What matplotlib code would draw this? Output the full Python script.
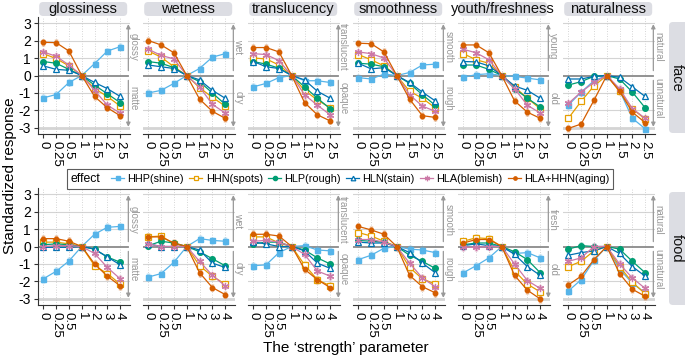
import matplotlib as mpl
import numpy as np

mpl.use("Agg")
import matplotlib.pyplot as plt
from matplotlib.lines import Line2D
from matplotlib.offsetbox import HPacker
from matplotlib.patches import FancyBboxPatch
from matplotlib.transforms import IdentityTransform

plt.rcParams["font.family"] = ["Liberation Sans", "DejaVu Sans"]

W, H = 685, 358

attributes = ["glossiness", "wetness", "translucency", "smoothness", "youth/freshness", "naturalness"]
effects = ["HHP(shine)", "HHN(spots)", "HLP(rough)", "HLN(stain)", "HLA(blemish)", "HLA+HHN(aging)"]
xticks_face = ["0", "0.25", "0.5", "1", "1.5", "2", "2.5"]
xticks_food = ["0", "0.25", "0.5", "1", "2", "3", "4"]
upper_face = ["glossy", "wet", "translucent", "smooth", "young", "natural"]
lower_face = ["matte", "dry", "opaque", "rough", "old", "unnatural"]
upper_food = ["glossy", "wet", "translucent", "smooth", "fresh", "natural"]
lower_food = ["matte", "dry", "opaque", "rough", "old", "unnatural"]

# rows: HHP, HHN, HLP, HLN, HLA, HLA+HHN
face_glossiness = [
    [-1.28, -1.09, -0.4, 0, 0.68, 1.4, 1.65],
    [1.25, 0.97, 0.55, 0, -0.75, -1.2, -1.75],
    [0.8, 0.7, 0.35, 0, -0.55, -1.05, -1.55],
    [0.55, 0.35, 0.3, 0, -0.4, -0.75, -1.2],
    [1.35, 1.1, 0.6, 0, -0.85, -1.7, -2.15],
    [1.9, 1.88, 1.4, 0, -1.2, -1.85, -2.3],
]
face_wetness = [
    [-1.0, -0.85, -0.45, 0, 0.4, 1.05, 1.25],
    [1.4, 1.05, 0.5, 0, -0.7, -1.25, -1.75],
    [0.8, 0.7, 0.45, 0, -0.35, -1.0, -1.65],
    [0.6, 0.5, 0.4, 0, -0.25, -0.85, -1.3],
    [1.5, 1.15, 0.95, 0, -0.65, -1.65, -2.15],
    [2.0, 1.75, 1.3, 0, -1.35, -2.05, -2.45],
]
face_translucency = [
    [-0.65, -0.45, -0.12, 0, -0.3, -0.3, -0.4],
    [1.0, 0.95, 0.6, 0, -0.85, -1.4, -1.85],
    [0.8, 0.65, 0.42, 0, -0.65, -1.3, -1.9],
    [0.8, 0.5, 0.4, 0, -0.25, -0.9, -1.3],
    [1.25, 1.2, 0.85, 0, -1.1, -1.7, -2.25],
    [1.6, 1.6, 1.35, 0, -1.55, -2.25, -2.6],
]
face_smoothness = [
    [-0.12, -0.2, 0.08, 0, 0.17, 0.6, 0.65],
    [1.2, 0.9, 0.55, 0, -0.9, -1.3, -1.85],
    [0.7, 0.65, 0.5, 0, -0.45, -1.1, -1.7],
    [0.7, 0.38, 0.45, 0, -0.4, -0.95, -1.45],
    [1.35, 1.25, 1.0, 0, -1.1, -1.75, -2.05],
    [1.85, 1.82, 1.35, 0, -1.35, -2.3, -2.4],
]
face_youth = [
    [-0.1, 0.05, 0.1, 0, -0.05, -0.15, -0.25],
    [1.25, 0.9, 0.7, 0, -0.65, -1.3, -1.9],
    [0.6, 0.6, 0.35, 0, -0.75, -1.3, -1.8],
    [0.8, 0.78, 0.55, 0, -0.6, -0.85, -1.3],
    [1.5, 1.3, 0.9, 0, -0.75, -1.7, -2.15],
    [1.75, 1.75, 1.3, 0, -1.45, -2.1, -2.45],
]
face_naturalness = [
    [-1.7, -0.95, -0.3, 0, -0.85, -2.45, -3.05],
    [-2.45, -1.48, -0.6, 0, -0.9, -1.9, -2.5],
    [-0.55, -0.35, -0.05, 0, -0.2, -0.95, -1.85],
    [-0.2, -0.2, -0.05, 0, -0.1, -0.65, -1.2],
    [-1.6, -0.95, -0.4, 0, -0.75, -1.9, -2.45],
    [-3.03, -2.78, -1.42, 0, -0.9, -2.1, -2.7],
]
food_glossiness = [
    [-1.85, -1.42, -0.83, 0, 0.7, 1.1, 1.15],
    [0.25, 0.25, 0.15, 0, -1.1, -1.55, -2.15],
    [0.1, 0.15, 0.1, 0, -0.15, -0.6, -0.9],
    [-0.05, -0.05, -0.05, 0, -0.15, -0.6, -1.05],
    [0.0, 0.05, 0.05, 0, -0.4, -1.2, -1.85],
    [0.45, 0.45, 0.3, 0, -1.0, -1.7, -2.25],
]
food_wetness = [
    [-1.75, -1.55, -0.9, 0, 0.45, 0.35, 0.3],
    [0.55, 0.6, 0.15, 0, -1.1, -1.7, -2.15],
    [0.05, 0.3, 0.2, 0, -0.3, -0.7, -1.1],
    [0.15, 0.0, 0.0, 0, -0.2, -0.95, -1.2],
    [0.15, 0.0, 0.0, 0, -0.85, -1.65, -2.25],
    [0.55, 0.55, 0.2, 0, -1.5, -2.35, -2.75],
]
food_translucency = [
    [-1.1, -1.05, -0.35, 0, 0.05, -0.2, -0.25],
    [0.55, 0.55, 0.2, 0, -1.05, -1.9, -2.25],
    [0.15, 0.25, 0.25, 0, -0.2, -0.65, -1.0],
    [0.25, 0.15, 0.0, 0, -0.25, -0.95, -1.25],
    [0.3, 0.35, 0.25, 0, -0.45, -1.4, -1.7],
    [0.7, 0.7, 0.6, 0, -1.3, -1.9, -2.35],
]
food_smoothness = [
    [-0.75, -0.5, -0.1, 0, -0.15, -0.2, -0.35],
    [0.8, 0.6, 0.3, 0, -1.2, -1.85, -2.15],
    [0.35, 0.3, 0.25, 0, -0.5, -0.85, -1.25],
    [0.25, 0.2, 0.2, 0, -0.35, -0.95, -1.5],
    [0.4, 0.4, 0.25, 0, -0.95, -1.8, -2.3],
    [1.15, 0.95, 0.7, 0, -1.65, -2.3, -2.65],
]
food_youth = [
    [-1.5, -1.1, -0.65, 0, -0.4, -0.35, -0.65],
    [0.3, 0.5, 0.45, 0, -1.4, -2.15, -2.6],
    [0.1, 0.2, 0.2, 0, -0.3, -0.75, -1.5],
    [0.05, 0.15, 0.05, 0, -0.45, -1.15, -1.65],
    [-0.05, -0.05, 0.0, 0, -1.0, -1.95, -2.4],
    [0.2, 0.4, 0.4, 0, -1.65, -2.5, -3.0],
]
food_naturalness = [
    [-2.55, -1.9, -0.8, 0, -1.3, -2.1, -2.65],
    [-1.15, -0.85, -0.25, 0, -1.15, -2.05, -2.7],
    [-0.15, 0.05, 0.0, 0, -0.15, -0.85, -1.5],
    [-0.5, -0.35, -0.25, 0, -0.4, -1.15, -1.7],
    [-0.85, -0.65, 0.0, 0, -1.0, -1.8, -2.4],
    [-2.2, -1.7, -0.75, 0, -1.55, -2.45, -2.85],
]
face_err = [0.2, 0.18, 0.16, 0.14, 0.18, 0.2]
food_err = [0.22, 0.2, 0.18, 0.16, 0.2, 0.22]

face_rows = [face_glossiness, face_wetness, face_translucency, face_smoothness, face_youth, face_naturalness]
food_rows = [food_glossiness, food_wetness, food_translucency, food_smoothness, food_youth, food_naturalness]

colors = ["#56B4E9", "#E69F00", "#009E73", "#0072B2", "#CC79A7", "#D55E00"]
styles = [
    dict(marker="s", ms=3.6, mfc="#56B4E9"),
    dict(marker="s", ms=4.0, mfc="white", mew=0.9),
    dict(marker="o", ms=4.0, mfc="#009E73"),
    dict(marker="^", ms=4.4, mfc="white", mew=0.9),
    dict(marker=(6, 2, 0), ms=5.2, mew=0.9),
    dict(marker="o", ms=3.2, mfc="#D55E00"),
]

fig = plt.figure(figsize=(W / 100, H / 100), dpi=100)


def px_axes(left, top, width, height):
    return fig.add_axes([left / W, 1 - (top + height) / H, width / W, height / H])


def strip(x0, y0, x1, y1, text, tx=None, rot=0):
    patch = FancyBboxPatch((x0, H - y1), x1 - x0, y1 - y0,
                           boxstyle="round,pad=0,rounding_size=4",
                           transform=IdentityTransform(), fc="#DCDDE3", ec="none")
    fig.add_artist(patch)
    if tx is None:
        tx = (x0 + x1) / 2
    fig.text(tx / W, 1 - (y0 + y1) / 2 / H, text, ha="center", va="center",
             rotation=rot, fontsize=10.5, color="#111111")


row_tops = [17, 188]
panel_h = 117
col_left0, col_step, panel_w = 37.7, 105, 92.3
x = np.arange(7)

for r, (rows, ticks, ups, lows, errs, uy) in enumerate([
        (face_rows, xticks_face, upper_face, lower_face, face_err, 1.65),
        (food_rows, xticks_food, upper_food, lower_food, food_err, 1.5)]):
    for c in range(6):
        ax = px_axes(col_left0 + c * col_step, row_tops[r], panel_w, panel_h)
        ax.set_xlim(-0.44, 6.77)
        ax.set_ylim(-3.35, 3.35)
        for v in range(-3, 4):
            if v != 0:
                ax.axhline(v, color="#D4D4D4", lw=2.0 if v == -3 else 0.8, zorder=0)
        for xv in x:
            ax.axvline(xv, color="#C8C8C8", lw=0.6, ls=(0, (1, 2)), zorder=0)
        ax.axhline(0, xmax=(6.64 + 0.44) / 7.21, color="#8A8A8A", lw=1.3, zorder=1)

        for k, ys in enumerate(rows[c]):
            ys = np.asarray(ys)
            mask = x != 3
            ax.vlines(x[mask], ys[mask] - errs[k], ys[mask] + errs[k], color=colors[k],
                      alpha=0.4, lw=2.5, zorder=2)
            ax.plot(x, ys, color=colors[k], lw=0.9, mec=colors[k], zorder=3, **styles[k])

        ax.annotate("", xy=(6.64, 3.1), xytext=(6.64, 0.12), annotation_clip=False,
                    arrowprops=dict(arrowstyle="-|>", color="#999999", lw=0.9, mutation_scale=6))
        ax.annotate("", xy=(6.64, -3.1), xytext=(6.64, -0.12), annotation_clip=False,
                    arrowprops=dict(arrowstyle="-|>", color="#999999", lw=0.9, mutation_scale=6))
        ax.text(7.03, uy, ups[c], rotation=-90, ha="center", va="center", fontsize=7,
                color="#999999", clip_on=False)
        ax.text(7.03, -1.3, lows[c], rotation=-90, ha="center", va="center", fontsize=7,
                color="#999999", clip_on=False)

        ax.set_xticks(x)
        ax.set_xticklabels(ticks, rotation=-90, ha="center", va="top", fontsize=9.5)
        for s in ["top", "right"]:
            ax.spines[s].set_visible(False)
        ax.spines["bottom"].set_color("#333333")
        ax.spines["bottom"].set_linewidth(0.8)
        ax.tick_params(axis="x", length=3, width=0.8, color="#333333", pad=2)
        if c == 0:
            ax.set_yticks(range(-3, 4))
            ax.set_yticklabels([str(v) for v in range(-3, 4)], fontsize=10)
            ax.spines["left"].set_color("#333333")
            ax.spines["left"].set_linewidth(0.8)
            ax.tick_params(axis="y", length=3, width=0.8, color="#333333", pad=2)
        else:
            ax.spines["left"].set_visible(False)
            ax.set_yticks([])
        ax.set_facecolor("none")

        if r == 0:
            x0 = col_left0 + c * col_step + 1.5
            strip(x0, 2, x0 + 88, 16, attributes[c])

strip(669, 22, 692, 133, "face", tx=677, rot=-90)
strip(669, 192, 692, 305, "food", tx=677, rot=-90)

fig.text(10 / W, 1 - 176 / H, "Standardized response", rotation=90, ha="center", va="center",
         fontsize=11)
fig.text(346 / W, 1 - 348 / H, "The \u2018strength\u2019 parameter", ha="center", va="center",
         fontsize=11)

handles = [Line2D([], [], color=colors[k], lw=0.9, mec=colors[k],
                  **{**styles[k], "ms": styles[k]["ms"] * 0.75}) for k in range(6)]
leg = fig.legend(handles, effects, loc="center", bbox_to_anchor=(340 / W, 1 - 179 / H),
                 ncol=6, frameon=True, fancybox=False, edgecolor="#333333", title="effect",
                 fontsize=7.8, title_fontsize=8.8, handlelength=1.2, handletextpad=0.3,
                 columnspacing=0.5, borderpad=0.35)
leg.get_frame().set_linewidth(0.8)
box = leg._legend_box
box._children = [HPacker(children=box._children, align="center", pad=0, sep=8)]

fig.savefig("out.png", dpi=100)
